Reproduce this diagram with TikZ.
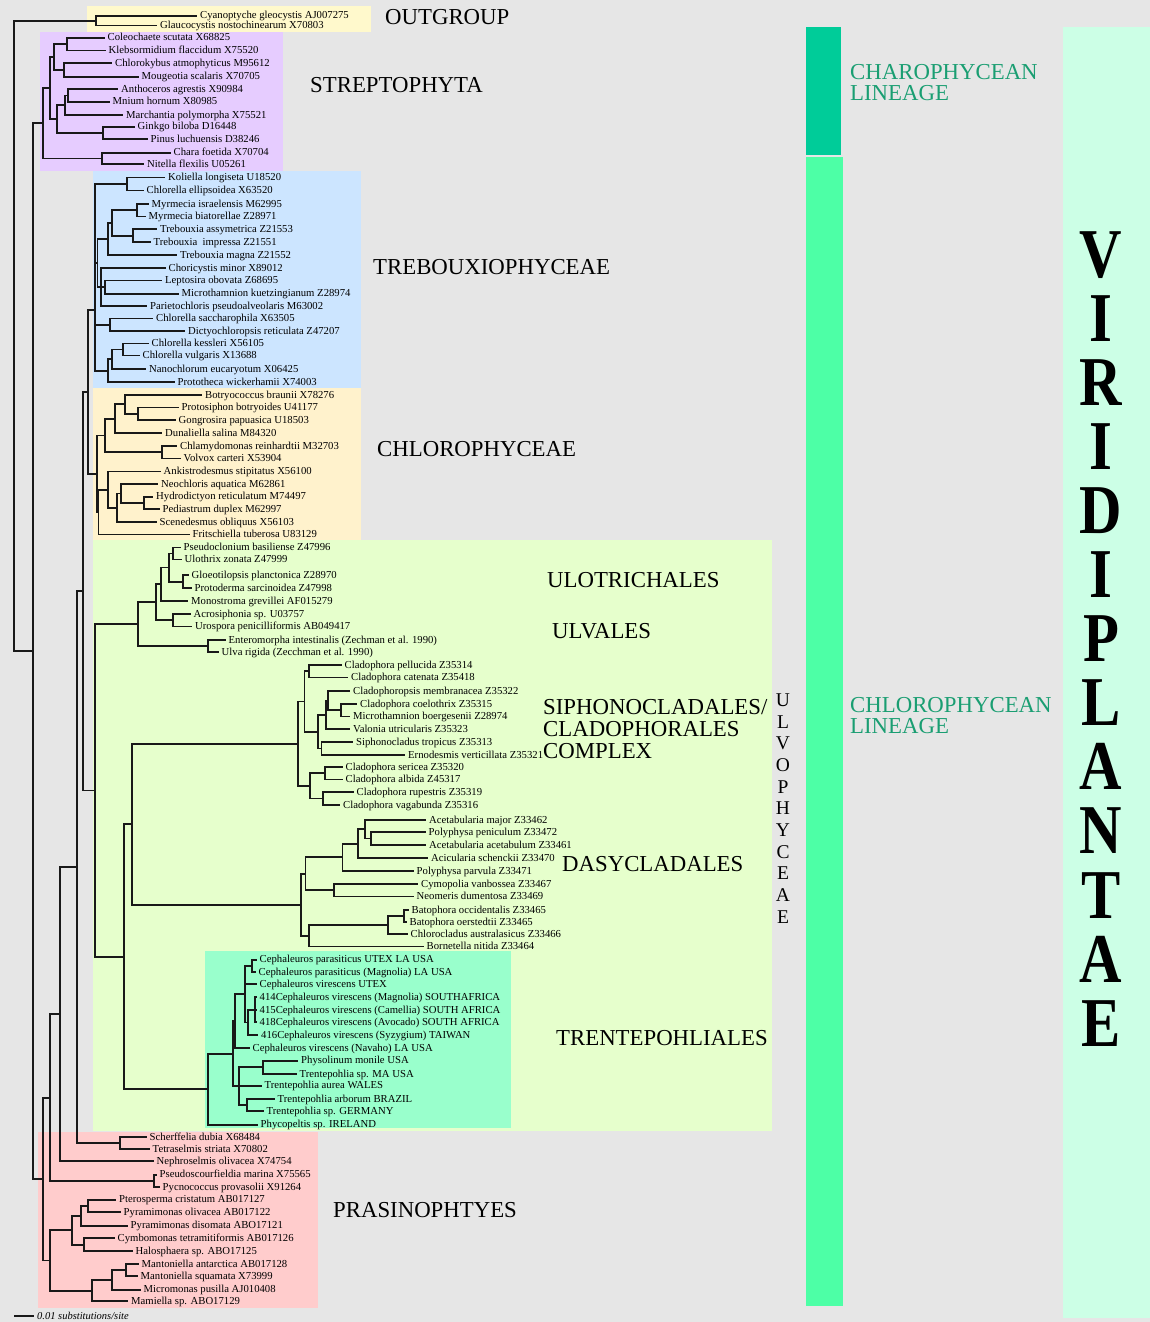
\documentclass[tikz,border=0pt]{standalone}
\usepackage{fontspec}
\setmainfont{Liberation Serif}
\usetikzlibrary{calc}
\definecolor{bgg}{HTML}{E6E6E6}
\definecolor{cOut}{HTML}{FFF9CC}
\definecolor{cStr}{HTML}{E6CCFF}
\definecolor{cTre}{HTML}{CCE5FF}
\definecolor{cChl}{HTML}{FFF2CC}
\definecolor{cUlv}{HTML}{E6FFCC}
\definecolor{cTrn}{HTML}{99FFCC}
\definecolor{cPra}{HTML}{FFCCCC}
\definecolor{cChaBar}{HTML}{00CC99}
\definecolor{cChlBar}{HTML}{4DFFA6}
\definecolor{cVir}{HTML}{CCFFE6}
\definecolor{cLin}{HTML}{1A9E72}
\newcommand\taxfont{\fontsize{10.7}{12}\selectfont}
\newcommand\grpfont{\fontsize{22.8}{22}\selectfont}
\tikzset{
  br/.style={line width=1.8pt, draw=black!90},
  leaf/.style={anchor=west, inner xsep=3pt, inner ysep=0pt, text height=7pt, text depth=1pt, font=\taxfont},
  grp/.style={anchor=base west, inner sep=0pt, font=\grpfont},
  lin/.style={anchor=base west, inner sep=0pt, font=\fontsize{22.8}{22}\selectfont, text=cLin},
  virletter/.style={inner sep=0pt, text height=46pt, text depth=0pt, xscale=0.84, transform shape, font=\fontsize{70}{70}\selectfont\bfseries},
}
\newcommand\lf[4]{\node[leaf] (#1) at (#2-3,#3) {#4};}
\newcommand\jn[5]{%
  \path let \p1=(#3), \p2=(#4) in coordinate (#1) at (#2pt,{0.5*\y1+0.5*\y2});
  \foreach \kid in {#5}{\draw[br] (#1) |- (\kid);}}
\newcommand\jny[4]{%
  \coordinate (#1) at (#2,#3);
  \foreach \kid in {#4}{\draw[br] (#1) |- (\kid);}}
\begin{document}
\begin{tikzpicture}[x=1pt,y=-1pt]
\useasboundingbox (0,0) rectangle (1150,1322);
\fill[bgg] (0,0) rectangle (1150,1322);
% group boxes
\fill[cOut] (87,6) rectangle (371,32);
\fill[cStr] (40,32) rectangle (283,171);
\fill[cTre] (93,171) rectangle (361,388);
\fill[cChl] (93,388) rectangle (361,540);
\fill[cUlv] (93,540) rectangle (772,1131);
\fill[cTrn] (205,951) rectangle (511,1128);
\fill[cPra] (38,1132) rectangle (318,1308);
% right bars
\fill[cChaBar] (806,27) rectangle (841,155);
\fill[cChlBar] (806,157) rectangle (843,1306);
\fill[cVir] (1063,27) rectangle (1150,1318);

% ---- leaves ----
\lf{L0}{200}{16}{Cyanoptyche gleocystis AJ007275}
\lf{L1}{160}{25.5}{Glaucocystis nostochinearum X70803}
\lf{L2}{107.5}{37.7}{Coleochaete scutata X68825}
\lf{L3}{108.5}{50.5}{Klebsormidium flaccidum X75520}
\lf{L4}{115}{63.3}{Chlorokybus atmophyticus M95612}
\lf{L5}{141.5}{76.7}{Mougeotia scalaris X70705}
\lf{L6}{121}{89.3}{Anthoceros agrestis X90984}
\lf{L7}{112.5}{101.7}{Mnium hornum X80985}
\lf{L8}{126}{115}{Marchantia polymorpha X75521}
\lf{L9}{137.5}{126.7}{Ginkgo biloba D16448}
\lf{L10}{150.5}{139.3}{Pinus luchuensis D38246}
\lf{L11}{173.5}{152.7}{Chara foetida X70704}
\lf{L12}{147}{164.3}{Nitella flexilis U05261}
\lf{L13}{168}{177.5}{Koliella longiseta U18520}
\lf{L14}{146.5}{190.5}{Chlorella ellipsoidea X63520}
\lf{L15}{151.5}{204}{Myrmecia israelensis M62995}
\lf{L16}{148.5}{216.5}{Myrmecia biatorellae Z28971}
\lf{L17}{160}{229.3}{Trebouxia assymetrica Z21553}
\lf{L18}{153.5}{242}{Trebouxia~ impressa Z21551}
\lf{L19}{180}{255}{Trebouxia magna Z21552}
\lf{L20}{168.5}{268}{Choricystis minor X89012}
\lf{L21}{165}{280.5}{Leptosira obovata Z68695}
\lf{L22}{181.5}{293.7}{Microthamnion kuetzingianum Z28974}
\lf{L23}{150}{306}{Parietochloris pseudoalveolaris M63002}
\lf{L24}{156}{318.5}{Chlorella saccharophila X63505}
\lf{L25}{188}{331}{Dictyochloropsis reticulata Z47207}
\lf{L26}{151.5}{343.5}{Chlorella kessleri X56105}
\lf{L27}{142.5}{355.5}{Chlorella vulgaris X13688}
\lf{L28}{149}{369}{Nanochlorum eucaryotum X06425}
\lf{L29}{177.5}{382}{Prototheca wickerhamii X74003}
\lf{L30}{205}{395}{Botryococcus braunii X78276}
\lf{L31}{181.5}{407.5}{Protosiphon botryoides U41177}
\lf{L32}{178.5}{420}{Gongrosira papuasica U18503}
\lf{L33}{165}{433}{Dunaliella salina M84320}
\lf{L34}{180}{446}{Chlamydomonas reinhardtii M32703}
\lf{L35}{183.5}{458.5}{Volvox carteri X53904}
\lf{L36}{163.5}{471.5}{Ankistrodesmus stipitatus X56100}
\lf{L37}{161}{484}{Neochloris aquatica M62861}
\lf{L38}{156}{496.7}{Hydrodictyon reticulatum M74497}
\lf{L39}{162.5}{509.3}{Pediastrum duplex M62997}
\lf{L40}{159.5}{522}{Scenedesmus obliquus X56103}
\lf{L41}{192.5}{534.5}{Fritschiella tuberosa U83129}
\lf{L42}{183.5}{547.5}{Pseudoclonium basiliense Z47996}
\lf{L43}{184.5}{559.5}{Ulothrix zonata Z47999}
\lf{L44}{191.5}{575}{Gloeotilopsis planctonica Z28970}
\lf{L45}{194.5}{588.3}{Protoderma sarcinoidea Z47998}
\lf{L46}{191}{601}{Monostroma grevillei AF015279}
\lf{L47}{193.5}{614}{Acrosiphonia sp. U03757}
\lf{L48}{195}{626.5}{Urospora penicilliformis AB049417}
\lf{L49}{228.5}{640}{Enteromorpha intestinalis (Zechman et al. 1990)}
\lf{L50}{221.5}{652.3}{Ulva rigida (Zecchman et al. 1990)}
\lf{L51}{344.5}{665}{Cladophora pellucida Z35314}
\lf{L52}{351}{677.5}{Cladophora catenata Z35418}
\lf{L53}{353}{691}{Cladophoropsis membranacea Z35322}
\lf{L54}{360}{704}{Cladophora coelothrix Z35315}
\lf{L55}{353}{716.5}{Microthamnion boergesenii Z28974}
\lf{L56}{353}{729}{Valonia utricularis Z35323}
\lf{L57}{356}{742}{Siphonocladus tropicus Z35313}
\lf{L58}{408}{755}{Ernodesmis verticillata Z35321}
\lf{L59}{345.5}{767}{Cladophora sericea Z35320}
\lf{L60}{345.5}{779.5}{Cladophora albida Z45317}
\lf{L61}{356.5}{792}{Cladophora rupestris Z35319}
\lf{L62}{343}{805}{Cladophora vagabunda Z35316}
\lf{L63}{429}{820}{Acetabularia major Z33462}
\lf{L64}{428.5}{832}{Polyphysa peniculum Z33472}
\lf{L65}{429}{845}{Acetabularia acetabulum Z33461}
\lf{L66}{431}{858}{Acicularia schenckii Z33470}
\lf{L67}{416.5}{871}{Polyphysa parvula Z33471}
\lf{L68}{421}{884}{Cymopolia vanbossea Z33467}
\lf{L69}{416.5}{896.5}{Neomeris dumentosa Z33469}
\lf{L70}{411.5}{910}{Batophora occidentalis Z33465}
\lf{L71}{409.5}{922}{Batophora oerstedtii Z33465}
\lf{L72}{410.5}{934}{Chlorocladus australasicus Z33466}
\lf{L73}{426.5}{946.5}{Bornetella nitida Z33464}
\lf{L74}{259.5}{959.7}{Cephaleuros parasiticus UTEX LA USA}
\lf{L75}{258.5}{972}{Cephaleuros parasiticus (Magnolia) LA USA}
\lf{L76}{259.5}{984}{Cephaleuros virescens UTEX}
\lf{L77}{259.5}{997.3}{414Cephaleuros virescens (Magnolia) SOUTHAFRICA}
\lf{L78}{259.5}{1010.3}{415Cephaleuros virescens (Camellia) SOUTH AFRICA}
\lf{L79}{259.5}{1022.3}{418Cephaleuros virescens (Avocado) SOUTH AFRICA}
\lf{L80}{261}{1035.3}{416Cephaleuros virescens (Syzygium) TAIWAN}
\lf{L81}{252.5}{1048}{Cephaleuros virescens (Navaho) LA USA}
\lf{L82}{301}{1060.7}{Physolinum monile USA}
\lf{L83}{299.5}{1074}{Trentepohlia sp. MA USA}
\lf{L84}{264.5}{1085.7}{Trentepohlia aurea WALES}
\lf{L85}{277.5}{1099}{Trentepohlia arborum BRAZIL}
\lf{L86}{266.5}{1111.3}{Trentepohlia sp. GERMANY}
\lf{L87}{260.5}{1124.7}{Phycopeltis sp. IRELAND}
\lf{L88}{149.5}{1137}{Scherffelia dubia X68484}
\lf{L89}{152.5}{1149}{Tetraselmis striata X70802}
\lf{L90}{156.5}{1161.3}{Nephroselmis olivacea X74754}
\lf{L91}{159.5}{1174.7}{Pseudoscourfieldia marina X75565}
\lf{L92}{162.5}{1187.3}{Pycnococcus provasolii X91264}
\lf{L93}{119}{1199.7}{Pterosperma cristatum AB017127}
\lf{L94}{123.5}{1212.3}{Pyramimonas olivacea AB017122}
\lf{L95}{130.5}{1225.7}{Pyramimonas disomata ABO17121}
\lf{L96}{117.5}{1238}{Cymbomonas tetramitiformis AB017126}
\lf{L97}{135.5}{1251.3}{Halosphaera sp. ABO17125}
\lf{L98}{141.5}{1264}{Mantoniella antarctica AB017128}
\lf{L99}{140.5}{1276.3}{Mantoniella squamata X73999}
\lf{L100}{143.5}{1289.7}{Micromonas pusilla AJ010408}
\lf{L101}{131}{1301.3}{Mamiella sp. ABO17129}

% ---- internal nodes ----
\jn{O}{95.7}{L0}{L1}{L0,L1}
% Streptophyta
\jn{CK}{66.7}{L2}{L3}{L2,L3}
\jn{CMs}{64}{L4}{L5}{L4,L5}
\jn{S3}{54.3}{CK}{CMs}{CK,CMs}
\jn{AM}{68.3}{L6}{L7}{L6,L7}
\jn{AMM}{65}{AM}{L8}{AM,L8}
\jn{GPn}{103.3}{L9}{L10}{L9,L10}
\jn{Em}{57.3}{AMM}{GPn}{AMM,GPn}
\jn{S4}{50}{S3}{Em}{S3,Em}
\jn{CNn}{101.7}{L11}{L12}{L11,L12}
\jn{S}{43.3}{S4}{CNn}{S4,CNn}
% Trebouxiophyceae
\jn{KC}{126.7}{L13}{L14}{L13,L14}
\jn{Myr}{136.7}{L15}{L16}{L15,L16}
\jn{Treb}{133.3}{L17}{L18}{L17,L18}
\jn{MT2}{111.7}{Myr}{Treb}{Myr,Treb}
\jn{MT}{108.3}{MT2}{L19}{MT2,L19}
\jn{LM}{105}{L21}{L22}{L21,L22}
\jn{CLMP}{101}{L20}{L23}{L20,LM,L23}
\jn{Tx}{97.5}{MT}{CLMP}{MT,CLMP}
\jn{SDn}{110}{L24}{L25}{L24,L25}
\jn{KVa}{122.7}{L26}{L27}{L26,L27}
\jn{KVb}{111.7}{KVa}{L28}{KVa,L28}
\jn{KV}{108.3}{KVb}{L29}{KVb,L29}
\jny{T}{95}{310}{KC,Tx,SDn,KV}
% Chlorophyceae
\jn{PG}{138.3}{L31}{L32}{L31,L32}
\jn{BPG}{125}{L30}{PG}{L30,PG}
\jn{Nd}{115}{BPG}{L33}{BPG,L33}
\jn{CVn}{161.7}{L34}{L35}{L34,L35}
\jn{ChA}{105}{Nd}{CVn}{Nd,CVn}
\jn{HP}{144}{L38}{L39}{L38,L39}
\jn{NHP}{120.7}{L37}{HP}{L37,HP}
\jn{SN}{116.7}{NHP}{L40}{NHP,L40}
\jn{AG}{108.3}{L36}{SN}{L36,SN}
\jn{ChB}{98.5}{AG}{L41}{AG,L41}
\jn{Ch}{96.7}{ChA}{ChB}{ChA,ChB}
\jn{H}{88.3}{T}{Ch}{T,Ch}
% Ulvophyceae
\jn{PU}{172.7}{L42}{L43}{L42,L43}
\jn{GPu}{182.7}{L44}{L45}{L44,L45}
\jn{Na}{169}{PU}{GPu}{PU,GPu}
\jn{Nb}{161}{Na}{L46}{Na,L46}
\jn{AU}{173.3}{L47}{L48}{L47,L48}
\jn{Ulot}{156}{Nb}{AU}{Nb,AU}
\jn{EU}{208.3}{L49}{L50}{L49,L50}
\jn{UU}{138.3}{Ulot}{EU}{Ulot,EU}
\jn{PC}{309}{L51}{L52}{L51,L52}
\jn{CMb}{341}{L54}{L55}{L54,L55}
\jn{CCM}{328}{L53}{CMb}{L53,CMb}
\jn{CCMV}{325.7}{CCM}{L56}{CCM,L56}
\jn{SE}{321.4}{L57}{L58}{L57,L58}
\jn{Cb}{318}{CCMV}{SE}{CCMV,SE}
\jn{Ca}{304.5}{PC}{Cb}{PC,Cb}
\jn{SA}{325}{L59}{L60}{L59,L60}
\jn{RV}{323}{L61}{L62}{L61,L62}
\jn{Cc}{310}{SA}{RV}{SA,RV}
\jn{CL}{298.2}{Ca}{Cc}{Ca,Cc}
\jn{PA}{370.8}{L64}{L65}{L64,L65}
\jn{Dd}{365.3}{L63}{PA}{L63,PA}
\jn{Dc}{358}{Dd}{L66}{Dd,L66}
\jn{Db}{342.4}{Dc}{L67}{Dc,L67}
\jn{CNd}{334}{L68}{L69}{L68,L69}
\jn{Da}{305.5}{Db}{CNd}{Db,CNd}
\jn{BB}{404}{L70}{L71}{L70,L71}
\jn{BC}{388.2}{BB}{L72}{BB,L72}
\jn{De}{309.2}{BC}{L73}{BC,L73}
\jn{DA}{300.7}{Da}{De}{Da,De}
\jn{SDc}{132}{CL}{DA}{CL,DA}
\jn{CP}{252.3}{L74}{L75}{L74,L75}
\jn{P3}{255}{L77}{L79}{L77,L78,L79}
\jn{G4}{248.3}{P3}{L80}{P3,L80}
\jn{CE1}{245}{CP}{G4}{CP,L76,G4}
\jn{CE}{235}{CE1}{L81}{CE1,L81}
\jn{PT}{263.3}{L82}{L83}{L82,L83}
\jn{AGt}{246.7}{L85}{L86}{L85,L86}
\jn{TT}{239.3}{PT}{AGt}{PT,L84,AGt}
\jn{TA}{233.3}{CE}{TT}{CE,TT}
\jn{TR}{208.3}{TA}{L87}{TA,L87}
\jn{V}{124}{SDc}{TR}{SDc,TR}
\jn{U}{95}{UU}{V}{UU,V}
\jn{G}{83.3}{H}{U}{H,U}
% Prasinophytes and backbone
\jn{ST}{120}{L88}{L89}{L88,L89}
\jn{F}{77.3}{G}{ST}{G,ST}
\jn{E}{60}{F}{L90}{F,L90}
\jn{PPn}{154}{L91}{L92}{L91,L92}
\jn{C}{50}{E}{PPn}{E,PPn}
\jn{PP2}{88.3}{L93}{L94}{L93,L94}
\jn{PO}{80.7}{PP2}{L95}{PP2,L95}
\jn{CHn}{84}{L96}{L97}{L96,L97}
\jn{PY}{71.7}{PO}{CHn}{PO,CHn}
\jn{MMb}{126}{L98}{L99}{L98,L99}
\jn{MMa}{111.7}{MMb}{L100}{MMb,L100}
\jn{MM}{91.7}{MMa}{L101}{MMa,L101}
\jn{D}{50}{PY}{MM}{PY,MM}
\jn{B}{43.3}{C}{D}{C,D}
\jn{A}{33.3}{S}{B}{S,B}
\jn{R}{14}{O}{A}{O,A}

% scale bar
\coordinate (sb1) at (14,1316);
\coordinate (sb2) at (34,1316);
\draw[br] (sb1) -- (sb2);
\node[anchor=west, inner sep=0pt, font=\fontsize{10.5}{11}\itshape] (sbt) at (37,1316) {0.01 substitutions/site};

% group labels
\node[grp] (gOUT) at (385,24.4) {OUTGROUP};
\node[grp] (gSTR) at (310,92.4) {STREPTOPHYTA};
\node[grp] (gTRE) at (373,274.4) {TREBOUXIOPHYCEAE};
\node[grp] (gCHL) at (377,456.4) {CHLOROPHYCEAE};
\node[grp] (gULO) at (547,587.4) {ULOTRICHALES};
\node[grp] (gULV) at (552,638.4) {ULVALES};
\node[grp] (gSIP1) at (543,714.4) {SIPHONOCLADALES/};
\node[grp] (gSIP2) at (543,736.4) {CLADOPHORALES};
\node[grp] (gSIP3) at (543,758.4) {COMPLEX};
\node[grp] (gDAS) at (562,871.4) {DASYCLADALES};
\node[grp] (gTRN) at (556,1045.4) {TRENTEPOHLIALES};
\node[grp] (gPRA) at (333,1217.4) {PRASINOPHTYES};
\node[lin] (lCHA1) at (850,79.4) {CHAROPHYCEAN};
\node[lin] (lCHA2) at (850,100.4) {LINEAGE};
\node[lin] (lCHL1) at (850,712.4) {CHLOROPHYCEAN};
\node[lin] (lCHL2) at (850,733.4) {LINEAGE};
\node[align=center, inner sep=0pt, font=\fontsize{19.5}{21.7}\selectfont] (gULVO) at (783,808.5)
  {U\\L\\V\\O\\P\\H\\Y\\C\\E\\A\\E};
\foreach \ltr [count=\i from 0] in {V,I,R,I,D,I,P,L,A,N,T,A,E}
  \node[virletter] (vir\i) at (1101,{254+64.1*\i}) {\ltr};
\end{tikzpicture}
\end{document}
